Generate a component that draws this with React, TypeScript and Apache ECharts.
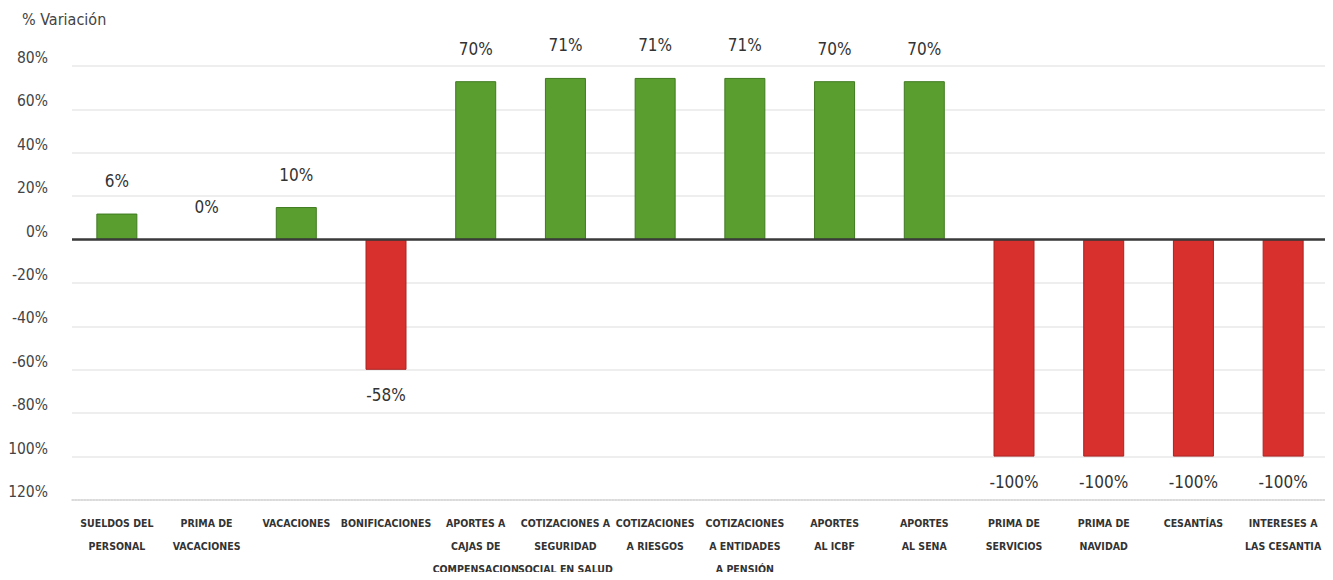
import React, { useEffect, useRef } from "react";
import * as echarts from "echarts";

const categories = [
  "SUELDOS DEL\nPERSONAL",
  "PRIMA DE\nVACACIONES",
  "VACACIONES",
  "BONIFICACIONES",
  "APORTES A\nCAJAS DE\nCOMPENSACION",
  "COTIZACIONES A\nSEGURIDAD\nSOCIAL EN SALUD",
  "COTIZACIONES\nA RIESGOS",
  "COTIZACIONES\nA ENTIDADES\nA PENSIÓN",
  "APORTES\nAL ICBF",
  "APORTES\nAL SENA",
  "PRIMA DE\nSERVICIOS",
  "PRIMA DE\nNAVIDAD",
  "CESANTÍAS",
  "INTERESES A\nLAS CESANTIA",
];

// bar heights as drawn in the picture (%)
const barHeights = [12, 0, 15, -60, 73, 74.5, 74.5, 74.5, 73, 73, -100, -100, -100, -100];
// value labels printed on the chart (%)
const valueLabels = [6, 0, 10, -58, 70, 71, 71, 71, 70, 70, -100, -100, -100, -100];

const yTicks = { min: -120, max: 80, interval: 20 };

const NARROW = '"Liberation Sans Narrow", "DejaVu Sans Condensed", "Liberation Sans", sans-serif';

export default function App() {
  const ref = useRef<HTMLDivElement>(null);
  useEffect(() => {
    if (!ref.current) return;
    const chart = echarts.init(ref.current, undefined, { renderer: "svg" });
    const GREEN = "#5a9e30";
    const RED = "#d7302d";
    chart.setOption({
      animation: false,
      backgroundColor: "#ffffff",
      title: {
        text: "% Variación",
        left: 17,
        top: 6,
        textStyle: { fontFamily: NARROW, fontSize: 16, fontWeight: "normal", color: "#444" },
      },
      grid: { left: 72, right: 5, top: 66, bottom: 77 },
      xAxis: {
        type: "category",
        data: categories,
        axisTick: { show: false },
        axisLine: { onZero: false, lineStyle: { color: "#d4d4d4", type: "dotted", width: 1.5 } },
        axisLabel: {
          interval: 0,
          fontFamily: NARROW,
          fontWeight: "bold",
          fontSize: 10.5,
          color: "#333",
          lineHeight: 23,
          margin: 11,
          verticalAlign: "top",
        },
      },
      yAxis: {
        type: "value",
        min: yTicks.min,
        max: yTicks.max,
        interval: yTicks.interval,
        axisLine: { show: false },
        axisTick: { show: false },
        axisLabel: {
          formatter: "{value}%",
          fontFamily: NARROW,
          fontSize: 15.5,
          color: "#444",
          margin: 24,
          verticalAlign: "bottom",
        },
        splitLine: { lineStyle: { color: "#e8e8e8", width: 1.5 } },
      },
      series: [
        {
          type: "bar",
          barWidth: 41,
          data: barHeights.map((v, i) => ({
            value: v,
            itemStyle: {
              color: valueLabels[i] < 0 ? RED : GREEN,
              borderColor: valueLabels[i] < 0 ? "#a82422" : "#3f7a1f",
              borderWidth: v === 0 ? 0 : 1,
            },
            label: {
              position: valueLabels[i] < 0 ? "bottom" : "top",
              distance: valueLabels[i] < 0 ? 17 : 24,
            },
          })),
          label: {
            show: true,
            fontFamily: NARROW,
            fontSize: 17,
            color: "#333",
            formatter: (p: any) => `${valueLabels[p.dataIndex]}%`,
          },
          markLine: {
            silent: true,
            symbol: ["none", "none"],
            label: { show: false },
            lineStyle: { color: "#3a3a3a", width: 2.5, type: "solid" },
            data: [{ yAxis: 0 }],
          },
        },
      ],
    });
    return () => chart.dispose();
  }, []);
  return <div ref={ref} style={{ width: 1333, height: 580, margin: -8 }} />;
}
